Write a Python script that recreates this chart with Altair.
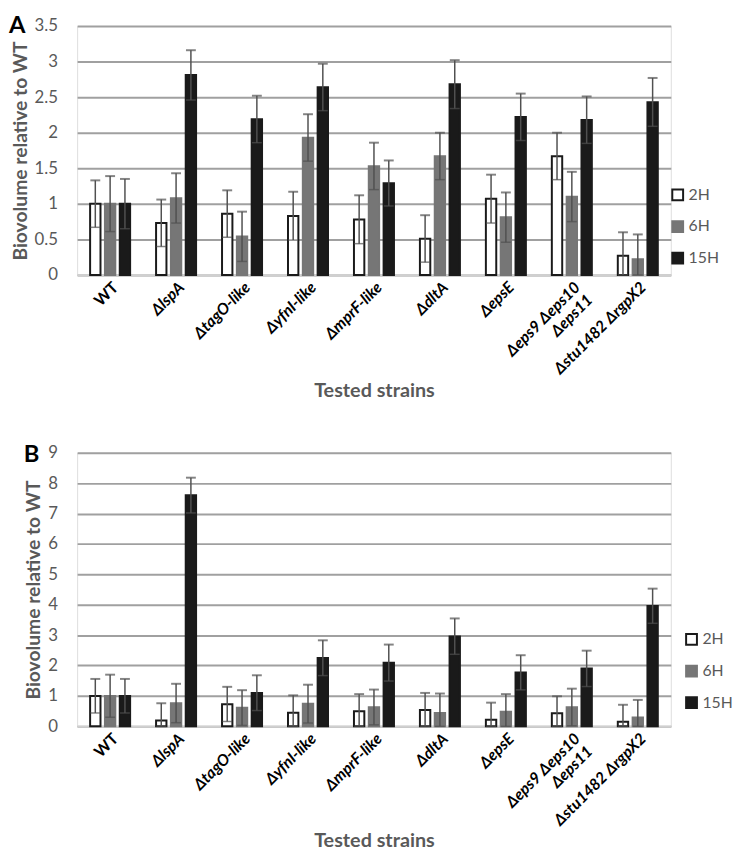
import altair as alt
import pandas as pd

# ---------------- data ----------------
strains = ["WT", "ΔlspA", "ΔtagO-like", "ΔyfnI-like", "ΔmprF-like", "ΔdltA",
           "ΔepsE", "Δeps9 Δeps10|Δeps11", "Δstu1482 ΔrgpX2"]
times = ["2H", "6H", "15H"]

# Panel A
A_2H = [1.00, 0.73, 0.86, 0.83, 0.78, 0.51, 1.07, 1.67, 0.27]
A_2H_err = [0.33, 0.33, 0.33, 0.34, 0.34, 0.33, 0.34, 0.33, 0.33]
A_6H = [1.00, 1.08, 0.54, 1.93, 1.53, 1.67, 0.81, 1.10, 0.22]
A_6H_err = [0.39, 0.35, 0.35, 0.33, 0.33, 0.33, 0.35, 0.35, 0.35]
A_15H = [1.00, 2.81, 2.19, 2.64, 1.29, 2.68, 2.22, 2.18, 2.43]
A_15H_err = [0.35, 0.35, 0.33, 0.33, 0.32, 0.34, 0.33, 0.33, 0.34]
A_ticks = [0, 0.5, 1, 1.5, 2, 2.5, 3, 3.5]

# Panel B
B_2H = [1.00, 0.19, 0.73, 0.45, 0.50, 0.54, 0.22, 0.43, 0.15]
B_2H_err = [0.56, 0.57, 0.57, 0.57, 0.56, 0.56, 0.56, 0.56, 0.56]
B_6H = [1.00, 0.76, 0.61, 0.74, 0.63, 0.44, 0.48, 0.63, 0.29]
B_6H_err = [0.70, 0.64, 0.58, 0.63, 0.58, 0.64, 0.58, 0.61, 0.58]
B_15H = [1.00, 7.60, 1.10, 2.25, 2.09, 2.96, 1.77, 1.90, 3.96]
B_15H_err = [0.56, 0.58, 0.58, 0.58, 0.60, 0.59, 0.57, 0.59, 0.57]
B_ticks = [0, 1, 2, 3, 4, 5, 6, 7, 8, 9]

FONT = "Lato"
GRAY_TXT = "#595959"
ERR = "#505050"


def make_df(vals, errs):
    rows = []
    for t, v, e in zip(times, vals, errs):
        for s, vi, ei in zip(strains, v, e):
            rows.append(dict(strain=s, time=t, value=vi, lo=max(0.0, vi - ei), hi=vi + ei))
    return pd.DataFrame(rows)


def panel(df, letter, ymax, ticks, height, legend_x, legend_y, letter_x, letter_y, title_pad):
    x = alt.X(
        "strain:N", sort=strains,
        scale=alt.Scale(paddingInner=0.326, paddingOuter=0.163),
        axis=alt.Axis(
            title="Tested strains", labelAngle=-45, labelFontSize=16, labelFontWeight="bold",
            labelFontStyle=alt.condition("datum.label == 'WT'", alt.value("normal"), alt.value("italic")),
            labelColor="black", labelExpr="split(datum.label, '|')", labelPadding=4,
            ticks=False, domainColor="#d0d0d0", domainWidth=2,
            titleFontSize=20, titleFontWeight="bold", titleColor=GRAY_TXT, titlePadding=title_pad,
            labelFont=FONT, titleFont=FONT,
        ),
    )
    xo = alt.XOffset("time:N", sort=times, scale=alt.Scale(paddingInner=0.3, paddingOuter=0.15))
    y_scale = alt.Scale(domain=[0, ymax], nice=False)
    y_axis = alt.Axis(
        title="Biovolume relative to WT", values=ticks, format="~g", grid=True,
        gridColor="#a0a0a0", gridWidth=2, domain=False, ticks=False,
        labelFontSize=17, labelColor=GRAY_TXT, labelPadding=20, labelFont=FONT,
        titleFontSize=19.5, titleFontWeight="bold", titleColor=GRAY_TXT, titlePadding=4, titleFont=FONT,
    )
    leg = alt.Legend(
        title=None, orient="none", legendX=legend_x, legendY=legend_y,
        symbolType="square", symbolSize=120, symbolStrokeWidth=2,
        labelFontSize=16, labelColor=GRAY_TXT, labelFont=FONT, rowPadding=12, labelOffset=3,
    )
    base = alt.Chart(df).encode(x=x, xOffset=xo)
    bars = base.mark_bar(strokeWidth=2).encode(
        y=alt.Y("value:Q", scale=y_scale, axis=y_axis),
        fill=alt.Fill("time:N", sort=times,
                      scale=alt.Scale(domain=times, range=["#ffffff", "#767676", "#1a1a1a"]), legend=leg),
        stroke=alt.Stroke("time:N", sort=times,
                          scale=alt.Scale(domain=times, range=["#1a1a1a", "#767676", "#1a1a1a"]), legend=leg),
    )
    rule = base.mark_rule(color=ERR, strokeWidth=1.5).encode(
        y=alt.Y("lo:Q", scale=y_scale, axis=y_axis), y2="hi:Q")
    cap_hi = base.mark_tick(color=ERR, thickness=2, size=10).encode(
        y=alt.Y("hi:Q", scale=y_scale, axis=y_axis))
    cap_lo = base.mark_tick(color=ERR, thickness=1.5, size=10).encode(
        y=alt.Y("lo:Q", scale=y_scale, axis=y_axis))
    lbl = alt.Chart(pd.DataFrame({"t": [letter]})).mark_text(
        font=FONT, fontSize=24, fontWeight="bold", color="black", align="left", baseline="top"
    ).encode(text="t:N", x=alt.value(letter_x), y=alt.value(letter_y))
    return alt.layer(bars, rule, cap_lo, cap_hi, lbl).properties(width=601, height=height)


dfA = make_df([A_2H, A_6H, A_15H], [A_2H_err, A_6H_err, A_15H_err])
dfB = make_df([B_2H, B_6H, B_15H], [B_2H_err, B_6H_err, B_15H_err])

pA = panel(dfA, "A", 3.5, A_ticks, 252, 600, 163, -69, -12, 4)
pB = panel(dfB, "B", 9, B_ticks, 277, 614, 181, -54, -10, 3)

chart = (
    alt.concat(pA, pB, columns=1, spacing=41)
    .resolve_scale(y="independent", fill="independent", stroke="independent")
    .resolve_legend(fill="independent", stroke="independent")
    .properties(padding=0, align="none")
    .configure_view(stroke="transparent", strokeWidth=0)
    .configure(font=FONT)
)

chart.save("out.html", embed_options={"renderer": "svg", "actions": False})
